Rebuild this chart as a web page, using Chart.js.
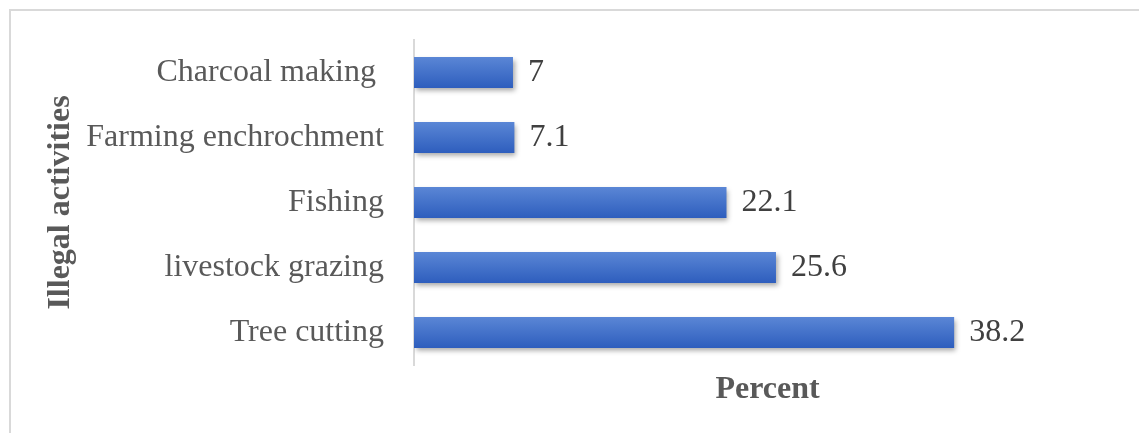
<!DOCTYPE html>
<html>
<head>
<meta charset="utf-8">
<script src="https://cdn.jsdelivr.net/npm/chart.js@4.4.1/dist/chart.umd.min.js"></script>
<style>
  html, body { margin: 0; padding: 0; background: #fff; overflow: hidden; }
  #wrap { position: relative; width: 1139px; height: 433px; }
  #frame {
    position: absolute; left: 9px; top: 9px; width: 1200px; height: 500px;
    border: 2px solid #d9d9d9;
  }
  #chart { position: absolute; left: 0; top: 0; }
</style>
</head>
<body>
<div id="wrap">
  <div id="frame"></div>
  <canvas id="chart" width="1139" height="433"></canvas>
</div>
<script>
/* ===================== DATA ===================== */
const activities = ["Charcoal making ", "Farming enchrochment", "Fishing", "livestock grazing", "Tree cutting"];
const percents = [7, 7.1, 22.1, 25.6, 38.2];

const xTitle = "Percent";
const yTitle = "Illegal activities";

/* ===================== STYLE ===================== */
const FONT = "'Liberation Serif', 'Times New Roman', serif";
const BAR_TOP = "#5b87d6";
const BAR_BOTTOM = "#2d5dbd";

/* ===================== PLUGINS ===================== */
// soft drop shadow under the bars + value labels on the right end
const barExtras = {
  id: "barExtras",
  beforeDatasetsDraw(chart) {
    const ctx = chart.ctx;
    ctx.save();
    ctx.shadowColor = "rgba(0,0,0,0.35)";
    ctx.shadowBlur = 5;
    ctx.shadowOffsetX = 2;
    ctx.shadowOffsetY = 3;
  },
  afterDatasetsDraw(chart) {
    const ctx = chart.ctx;
    ctx.restore();
    const meta = chart.getDatasetMeta(0);
    ctx.save();
    ctx.font = "32px " + FONT;
    ctx.fillStyle = "#404040";
    ctx.textAlign = "left";
    ctx.textBaseline = "middle";
    meta.data.forEach((bar, i) => {
      ctx.fillText(String(percents[i]), bar.x + 15, bar.y);
    });
    ctx.restore();
  }
};

/* ===================== CHART ===================== */
const chart = new Chart(document.getElementById("chart"), {
  type: "bar",
  data: {
    labels: activities,
    datasets: [{
      data: percents,
      backgroundColor: function (c) {
        const area = c.chart.chartArea;
        const yScale = c.chart.scales.y;
        if (!area || !yScale) return BAR_BOTTOM;
        const cy = yScale.getPixelForValue(c.dataIndex);
        const g = c.chart.ctx.createLinearGradient(0, cy - 16, 0, cy + 16);
        g.addColorStop(0, BAR_TOP);
        g.addColorStop(1, BAR_BOTTOM);
        return g;
      },
      borderWidth: 0,
      barPercentage: 1,
      categoryPercentage: 0.48
    }]
  },
  options: {
    indexAxis: "y",
    responsive: false,
    animation: false,
    layout: {
      padding: { top: 40, right: 18, bottom: 0, left: 0 }
    },
    plugins: {
      legend: { display: false },
      tooltip: { enabled: false }
    },
    scales: {
      x: {
        min: 0,
        max: 50,
        grid: { display: false, drawTicks: false },
        border: { display: false },
        ticks: { display: false },
        title: {
          display: true,
          text: xTitle,
          color: "#595959",
          font: { family: FONT, size: 32, weight: "bold", lineHeight: 1.2 },
          padding: { top: 0, bottom: 24 }
        },
        afterFit(scale) { scale.height = 68; }
      },
      y: {
        grid: { display: false, drawTicks: false },
        border: { display: true, color: "#d9d9d9", width: 2 },
        ticks: {
          color: "#595959",
          padding: 30,
          font: { family: FONT, size: 32, lineHeight: 0.6 }
        },
        title: {
          display: true,
          text: yTitle,
          color: "#595959",
          font: { family: FONT, size: 32, weight: "bold", lineHeight: 1.2 },
          padding: { top: 42, bottom: 0 }
        },
        afterFit(scale) { scale.width = 414; }
      }
    }
  },
  plugins: [barExtras]
});
</script>
</body>
</html>
